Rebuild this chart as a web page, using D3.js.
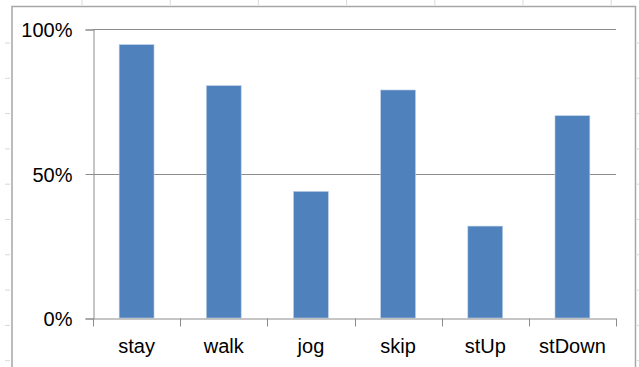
<!DOCTYPE html>
<html>
<head>
<meta charset="utf-8">
<script src="https://cdn.jsdelivr.net/npm/d3@7"></script>
<style>
  html, body { margin: 0; padding: 0; background: #fff; }
  svg { display: block; }
  text { font-family: "Liberation Sans", Arial, sans-serif; fill: #000; }
</style>
</head>
<body>
<svg id="chart" width="639" height="367"></svg>
<script>
const categories = ["stay", "walk", "jog", "skip", "stUp", "stDown"];
const values = [0.946, 0.804, 0.438, 0.789, 0.318, 0.70];
const yTicks = [0, 0.5, 1];

const W = 639, H = 367;
const plot = { left: 93, right: 616, top: 29, bottom: 318 };

const svg = d3.select("#chart");

// outer chart frame (extends below the visible area)
svg.append("rect")
  .attr("x", 12).attr("y", 6.5)
  .attr("width", 623.5).attr("height", 400)
  .attr("fill", "none")
  .attr("stroke", "#a6a6a6")
  .attr("stroke-width", 1.5);

// faint ruler marks outside the frame
const topMarks = d3.range(82, 639, 88.2);
svg.selectAll("line.rt").data(topMarks).enter().append("line")
  .attr("x1", d => d).attr("x2", d => d).attr("y1", 0).attr("y2", 5)
  .attr("stroke", "#d9d9d9");
const sideMarks = d3.range(43, 367, 35.3);
svg.selectAll("line.rl").data(sideMarks).enter().append("line")
  .attr("x1", 5).attr("x2", 10).attr("y1", d => d).attr("y2", d => d)
  .attr("stroke", "#d9d9d9");
svg.selectAll("line.rr").data(sideMarks).enter().append("line")
  .attr("x1", 637).attr("x2", 639).attr("y1", d => d).attr("y2", d => d)
  .attr("stroke", "#d9d9d9");

const x = d3.scaleBand()
  .domain(categories)
  .range([plot.left, plot.right])
  .paddingInner(0.6)
  .paddingOuter(0.3);

const y = d3.scaleLinear()
  .domain([0, 1])
  .range([plot.bottom, plot.top]);

// gridlines
svg.append("g")
  .selectAll("line")
  .data(yTicks.filter(d => d > 0))
  .enter().append("line")
  .attr("x1", plot.left).attr("x2", plot.right)
  .attr("y1", d => Math.round(y(d)) + 0.5)
  .attr("y2", d => Math.round(y(d)) + 0.5)
  .attr("stroke", "#8c8c8c")
  .attr("stroke-width", 1);

// bars
svg.append("g")
  .selectAll("rect")
  .data(values)
  .enter().append("rect")
  .attr("x", (d, i) => x(categories[i]))
  .attr("y", d => y(d))
  .attr("width", x.bandwidth())
  .attr("height", d => y(0) - y(d))
  .attr("fill", "#4f81bd")
  .attr("stroke", "#bcd0e8")
  .attr("stroke-width", 0.6);

// y axis
const yAxis = d3.axisLeft(y)
  .tickValues(yTicks)
  .tickFormat(d3.format(".0%"))
  .tickSize(8)
  .tickPadding(13);
const gy = svg.append("g")
  .attr("transform", `translate(${plot.left + 0.5},0.5)`)
  .call(yAxis);
gy.select(".domain").attr("stroke", "#8c8c8c");
gy.selectAll(".tick line").attr("stroke", "#8c8c8c");
gy.selectAll(".tick text")
  .attr("font-size", 20)
  .attr("dy", "0.36em");

// x axis
const xAxis = d3.axisBottom(x)
  .tickSize(0)
  .tickPadding(20);
const gx = svg.append("g")
  .attr("transform", `translate(0,${plot.bottom + 0.5})`)
  .call(xAxis);
gx.select(".domain").attr("stroke", "#8c8c8c");
gx.selectAll(".tick text").attr("font-size", 20);

// category boundary ticks
const boundaries = d3.range(categories.length + 1).map(i => plot.left + i * x.step());
gx.selectAll("line.bt").data(boundaries).enter().append("line")
  .attr("x1", d => Math.round(d) + 0.5).attr("x2", d => Math.round(d) + 0.5)
  .attr("y1", 0).attr("y2", 8)
  .attr("stroke", "#8c8c8c");
</script>
</body>
</html>
